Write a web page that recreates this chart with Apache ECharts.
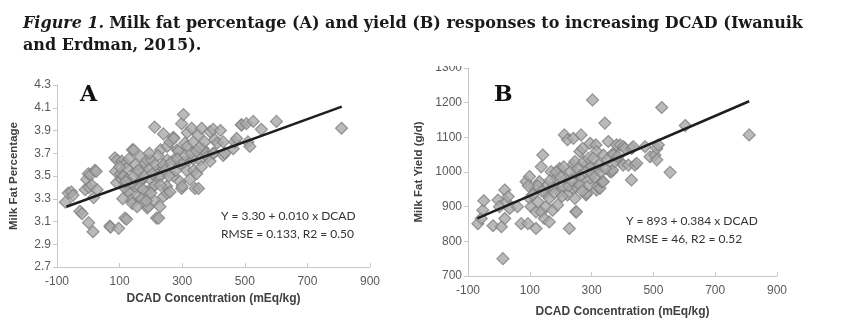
<!DOCTYPE html>
<html>
<head>
<meta charset="utf-8">
<script src="https://cdn.jsdelivr.net/npm/echarts@6/dist/echarts.min.js"></script>
<style>
  html, body { margin: 0; padding: 0; background: #fff; }
  #chart { width: 865px; height: 329px; }
</style>
</head>
<body>
<div id="chart"></div>
<script>
// Panel A: milk fat percentage vs DCAD (mEq/kg)
const dcadA = [-73,-64,-54,-49,-27,-20,-10,-5,0,1,2,7,11,15,17,21,25,28,69,71,85,87,91,92,97,103,107,107,113,117,119,122,123,124,128,129,138,140,141,145,149,154,156,160,167,167,170,177,181,186,188,188,192,199,202,208,209,212,213,218,220,224,225,229,231,231,234,240,240,250,252,252,252,261,261,272,272,273,273,284,288,293,293,298,298,300,304,309,314,316,316,321,325,330,336,336,337,341,346,351,352,356,361,362,367,372,377,380,389,389,399,399,401,404,412,422,431,431,436,463,468,474,489,490,505,510,516,527,553,601,809,
  135,145,150,160,165,175,180,195,200,205,215,222,230,240,245,258,265,280,285,305,310,328,345,355,115,100,130,170,185,195,110,120];
const fatPct = [3.27,3.35,3.36,3.33,3.19,3.17,3.38,3.47,3.52,3.09,3.40,3.51,3.42,3.01,3.31,3.55,3.54,3.38,3.06,3.05,3.66,3.54,3.44,3.64,3.04,3.52,3.47,3.63,3.50,3.13,3.61,3.12,3.57,3.47,3.38,3.36,3.29,3.26,3.73,3.73,3.41,3.54,3.23,3.32,3.67,3.45,3.47,3.55,3.61,3.36,3.64,3.22,3.23,3.47,3.64,3.29,3.41,3.93,3.42,3.13,3.55,3.49,3.13,3.23,3.50,3.73,3.58,3.32,3.87,3.41,3.35,3.64,3.76,3.36,3.80,3.50,3.84,3.83,3.64,3.73,3.72,3.60,3.45,3.39,3.96,3.41,4.04,3.79,3.55,3.76,3.88,3.64,3.47,3.92,3.80,3.65,3.55,3.39,3.52,3.86,3.39,3.64,3.58,3.92,3.74,3.80,3.70,3.67,3.89,3.63,3.70,3.91,3.70,3.82,3.79,3.90,3.80,3.68,3.70,3.74,3.80,3.83,3.95,3.95,3.96,3.80,3.76,3.98,3.91,3.98,3.92,
  3.44,3.50,3.60,3.55,3.40,3.38,3.50,3.56,3.35,3.52,3.60,3.68,3.42,3.60,3.55,3.50,3.62,3.55,3.65,3.62,3.68,3.70,3.72,3.75,3.40,3.58,3.65,3.30,3.28,3.70,3.30,3.45];

// Panel B: milk fat yield (g/d) vs DCAD (mEq/kg)
const dcadB = [-68,-57,-52,-49,-19,-3,2,8,13,19,19,24,30,35,72,88,94,99,99,104,115,120,120,126,131,137,137,142,147,152,152,163,163,169,174,174,185,190,196,196,206,212,217,222,222,228,239,241,241,246,246,249,249,251,251,260,262,262,266,271,282,284,284,292,295,295,298,303,314,316,316,316,319,327,332,335,338,338,343,354,360,365,368,370,370,381,392,392,402,403,408,419,429,430,435,440,446,473,489,505,511,511,516,527,554,603,810,
  155,165,180,185,200,205,210,225,230,235,255,265,270,275,280,290,300,305,310,325,330,345,350,375,385,110,125,140,95,60];
const fatYield = [851,866,890,917,845,919,900,842,750,866,948,914,929,895,851,972,851,924,987,900,953,837,885,914,972,1015,885,1049,866,900,939,856,924,1001,958,890,982,905,1010,943,958,1107,982,1093,934,837,1020,1097,953,1030,924,885,958,996,885,972,1059,962,1107,1068,934,1020,938,962,1083,982,1015,1208,1078,1059,1006,948,958,953,972,972,1049,972,1141,1088,1001,1001,1006,1054,1049,1078,1078,1030,1020,1073,1068,1020,977,1068,1073,1020,1025,1073,1044,1049,1068,1035,1078,1186,999,1134,1107,
  960,975,940,1000,985,930,1015,960,1000,975,1010,990,945,1030,1000,1040,995,1040,985,1020,1000,1010,1035,1030,1045,935,960,945,960,900];

// Regression fits as printed on each panel
const fitA = { intercept: 3.30, slopePer10: 0.010 };   // slope per 10 mEq/kg
const fitB = { intercept: 893, slope: 0.384 };
const fitRange = [-70, 810];

const ticksX = { min: -100, max: 900, step: 200 };
const ticksA = { min: 2.7, max: 4.3, step: 0.2 };
const ticksB = { min: 700, max: 1300, step: 100 };

const eqA = ['Y = 3.30 + 0.010 x DCAD', 'RMSE = 0.133, R2 = 0.50'];
const eqB = ['Y = 893 + 0.384 x DCAD', 'RMSE = 46, R2 = 0.52'];

const lineA = fitRange.map(x => [x, fitA.intercept + fitA.slopePer10 * x / 10]);
const lineB = fitRange.map(x => [x, fitB.intercept + fitB.slope * x]);

const pts = (xs, ys) => xs.map((x, i) => [x, ys[i]]);

const labelColor = '#595959';
const axisColor = '#c8c8c8';
const sans = 'Liberation Sans';

function xAxisCfg(gridIndex, nameGap) {
  return {
    type: 'value', gridIndex,
    min: ticksX.min, max: ticksX.max, interval: ticksX.step,
    name: 'DCAD Concentration (mEq/kg)', nameLocation: 'middle', nameGap,
    nameTextStyle: { fontFamily: sans, fontWeight: 'bold', fontSize: 12, color: '#404040' },
    axisLine: { show: true, onZero: false, lineStyle: { color: axisColor, width: 1 } },
    axisTick: { show: true, inside: true, length: 4, lineStyle: { color: axisColor } },
    axisLabel: { fontFamily: sans, fontSize: 12, color: labelColor, margin: 9 },
    splitLine: { show: false }
  };
}
function yAxisCfg(gridIndex, t, name, nameGap, digits) {
  return {
    type: 'value', gridIndex,
    min: t.min, max: t.max, interval: t.step,
    name, nameLocation: 'middle', nameGap,
    nameTextStyle: { fontFamily: sans, fontWeight: 'bold', fontSize: 11.5, color: '#404040' },
    axisLine: { show: true, onZero: false, lineStyle: { color: axisColor, width: 1 } },
    axisTick: { show: true, length: 4, lineStyle: { color: axisColor } },
    axisLabel: { fontFamily: sans, fontSize: 12, color: labelColor, margin: 6,
      formatter: v => Number(v).toFixed(digits) },
    splitLine: { show: false }
  };
}

const markerStyle = { color: '#a9a9a9', borderColor: '#808080', borderWidth: 1.2 };

const chart = echarts.init(document.getElementById('chart'), null, { renderer: 'canvas' });
chart.setOption({
  animation: false,
  backgroundColor: '#ffffff',
  title: {
    left: 18, top: 8,
    text: '{i|Figure 1.} {b|Milk fat percentage (A) and yield (B) responses to increasing DCAD (Iwanuik}\n{b|and Erdman, 2015).}',
    textStyle: {
      rich: {
        i: { fontFamily: 'DejaVu Serif', fontStyle: 'italic', fontWeight: 'bold', fontSize: 16, color: '#1a1a1a', lineHeight: 22 },
        b: { fontFamily: 'DejaVu Serif', fontWeight: 'bold', fontSize: 16, color: '#1a1a1a', lineHeight: 22 }
      }
    }
  },
  grid: [
    { left: 57, right: 495, top: 85, bottom: 62 },
    { left: 468, right: 88, top: 68, bottom: 53 }
  ],
  xAxis: [xAxisCfg(0, 26), xAxisCfg(1, 30)],
  yAxis: [
    yAxisCfg(0, ticksA, 'Milk Fat Percentage', 37, 1),
    yAxisCfg(1, ticksB, 'Milk Fat Yield (g/d)', 43, 0)
  ],
  series: [
    { type: 'scatter', xAxisIndex: 0, yAxisIndex: 0, symbol: 'diamond', symbolSize: 12,
      itemStyle: markerStyle, data: pts(dcadA, fatPct), z: 2 },
    { type: 'line', xAxisIndex: 0, yAxisIndex: 0, data: lineA, symbol: 'none',
      lineStyle: { color: '#1e1e1e', width: 2.5 }, z: 3 },
    { type: 'scatter', xAxisIndex: 1, yAxisIndex: 1, symbol: 'diamond', symbolSize: 12,
      itemStyle: markerStyle, data: pts(dcadB, fatYield), z: 2 },
    { type: 'line', xAxisIndex: 1, yAxisIndex: 1, data: lineB, symbol: 'none',
      lineStyle: { color: '#1e1e1e', width: 2.5 }, z: 3 }
  ],
  graphic: [
    // top of the yield axis is clipped in the figure
    { type: 'rect', left: 420, top: 56, shape: { width: 44, height: 10 }, style: { fill: '#ffffff' }, z: 100 },
    { type: 'text', left: 80, top: 84, style: { text: 'A', font: 'bold 22px "DejaVu Serif"', fill: '#111' } },
    { type: 'text', left: 494, top: 84, style: { text: 'B', font: 'bold 22px "DejaVu Serif"', fill: '#111' } },
    { type: 'text', left: 221, top: 207, style: { text: eqA.join('\n'), font: '12px Lato', lineHeight: 18, fill: '#333' } },
    { type: 'text', left: 626, top: 212, style: { text: eqB.join('\n'), font: '12px Lato', lineHeight: 18, fill: '#333' } }
  ]
});
</script>
</body>
</html>
